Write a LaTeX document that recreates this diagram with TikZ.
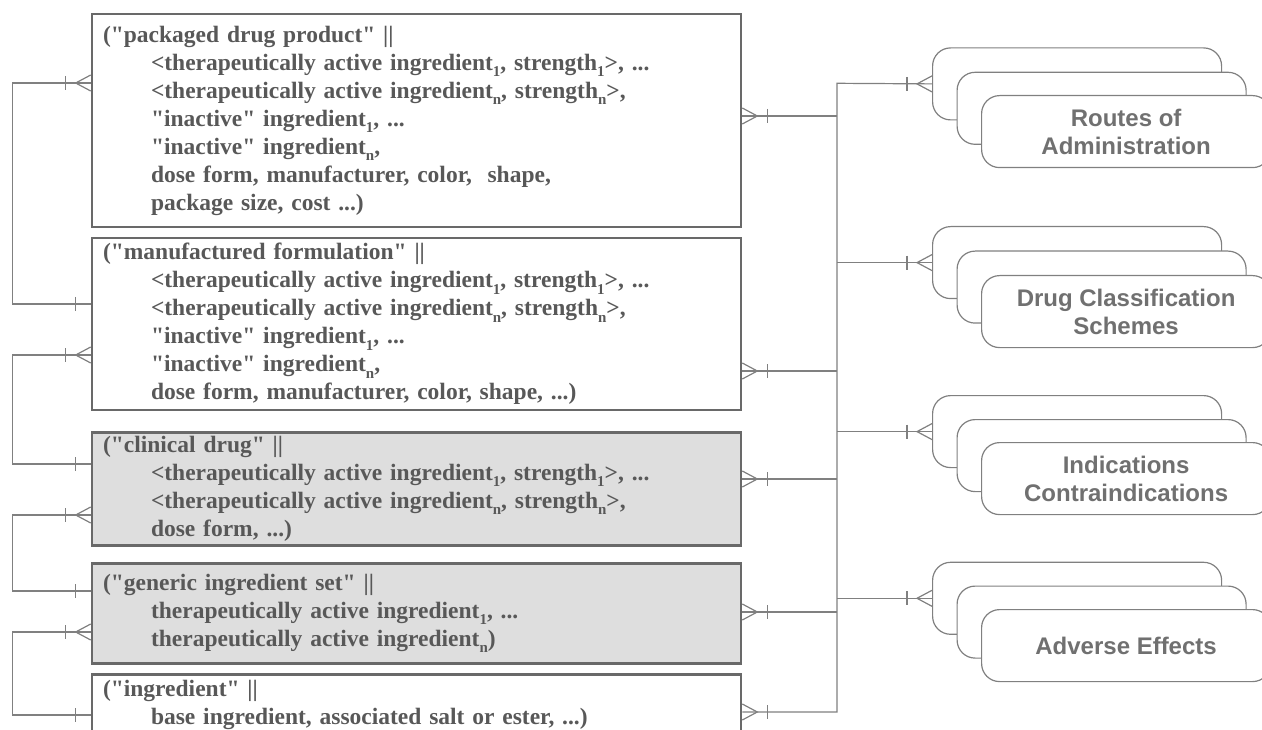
\documentclass[tikz,border=0pt]{standalone}
\usepackage{fontspec}
\newfontfamily\formfont{Liberation Serif}
\newfontfamily\labelfont{Liberation Sans}
\usetikzlibrary{positioning}
\definecolor{linegray}{RGB}{128,128,128}
\definecolor{boxgray}{RGB}{105,105,105}
\definecolor{textgray}{RGB}{88,88,88}
\definecolor{shadegray}{RGB}{222,222,222}
\definecolor{labelgray}{RGB}{112,112,112}
\newcommand{\indline}{\hspace*{48pt}}
\newcommand{\lowsub}[1]{\raisebox{-6.5pt}{\fontsize{15}{15}\selectfont #1}}

\begin{document}
\begin{tikzpicture}[x=1pt,y=-1pt,
  conn/.style={draw=linegray,line width=1.2pt},
  formbox/.style={draw=boxgray,line width=2.6pt,anchor=north west,text width=627pt,inner xsep=11pt,inner ysep=1pt,align=left,font=\formfont\bfseries\fontsize{23.5}{28}\selectfont,text=textgray},
  shaded/.style={fill=shadegray},
  stackbox/.style={draw=linegray,line width=1.2pt,fill=white,rounded corners=18pt,anchor=north west,minimum width=289pt,minimum height=72pt,align=center,font=\labelfont\bfseries\fontsize{24}{28}\selectfont,text=labelgray},
  crowfoot/.pic={\draw[conn] (0,-8) -- (-15,0) -- (0,8); \draw[conn] (-25,-7) -- (-25,7);},
  onebar/.pic={\draw[conn] (-15,-7) -- (-15,7);}
]
\useasboundingbox (0,0) rectangle (1262,730);
\clip (0,0) rectangle (1262,730);

\node[formbox,minimum height=213pt] (pkg) at (90.7,12.7) {("packaged drug product" ||\\
\indline<therapeutically active ingredient\lowsub{1}, strength\lowsub{1}>, ...\\
\indline<therapeutically active ingredient\lowsub{n}, strength\lowsub{n}>,\\
\indline"inactive" ingredient\lowsub{1}, ...\\
\indline"inactive" ingredient\lowsub{n},\\
\indline dose form, manufacturer, color,\ \ shape,\\
\indline package size, cost ...)};
\node[formbox,minimum height=172pt] (mfg) at (90.7,236.7) {("manufactured formulation" ||\\
\indline<therapeutically active ingredient\lowsub{1}, strength\lowsub{1}>, ...\\
\indline<therapeutically active ingredient\lowsub{n}, strength\lowsub{n}>,\\
\indline"inactive" ingredient\lowsub{1}, ...\\
\indline"inactive" ingredient\lowsub{n},\\
\indline dose form, manufacturer, color, shape, ...)};
\node[formbox,shaded,minimum height=113pt] (clin) at (90.7,431) {("clinical drug" ||\\
\indline<therapeutically active ingredient\lowsub{1}, strength\lowsub{1}>, ...\\
\indline<therapeutically active ingredient\lowsub{n}, strength\lowsub{n}>,\\
\indline dose form, ...)};
\node[formbox,shaded,minimum height=100pt] (gen) at (90.7,562) {("generic ingredient set" ||\\
\indline therapeutically active ingredient\lowsub{1}, ...\\
\indline therapeutically active ingredient\lowsub{n})};
\node[formbox,minimum height=62pt] (ingr) at (90.7,673) {("ingredient" ||\\
\indline base ingredient, associated salt or ester, ...)};

\node[stackbox] (routes3) at (932,47.3) {};
\node[stackbox] (routes2) at (956.5,71.7) {};
\node[stackbox] (routes) at (981,95) {Routes of\\Administration};
\node[stackbox] (class3) at (932,226) {};
\node[stackbox] (class2) at (956.5,250.5) {};
\node[stackbox] (class) at (981,275) {Drug Classification\\Schemes};
\node[stackbox] (indic3) at (932,395) {};
\node[stackbox] (indic2) at (956.5,419) {};
\node[stackbox] (indic) at (981,442) {Indications\\Contraindications};
\node[stackbox] (adverse3) at (932,561.7) {};
\node[stackbox] (adverse2) at (956.5,585.5) {};
\node[stackbox] (adverse) at (981,609) {Adverse Effects};

\coordinate (bustop) at (837,83.3);
\coordinate (busbot) at (837,712);
\draw[conn] (routes3.west) -- (bustop) -- (busbot) -- (ingr.east |- busbot);
\draw[conn] (class3.west) -- (bustop |- class3.west);
\draw[conn] (indic3.west) -- (bustop |- indic3.west);
\draw[conn] (adverse3.west) -- (bustop |- adverse3.west);
\draw[conn] (pkg.east |- 0,116) -- (bustop |- 0,116);
\draw[conn] (mfg.east |- 0,371) -- (bustop |- 0,371);
\draw[conn] (clin.east |- 0,479) -- (bustop |- 0,479);
\draw[conn] (gen.east |- 0,612) -- (bustop |- 0,612);
\foreach \grp in {routes3,class3,indic3,adverse3}
  \pic at (\grp.west) {crowfoot};
\pic[xscale=-1] at (pkg.east |- 0,116) {crowfoot};
\pic[xscale=-1] at (mfg.east |- 0,371) {crowfoot};
\pic[xscale=-1] at (clin.east |- 0,479) {crowfoot};
\pic[xscale=-1] at (gen.east |- 0,612) {crowfoot};
\pic[xscale=-1] at (ingr.east |- busbot) {crowfoot};

\draw[conn] (pkg.west |- 0,83) -- (12.7,83) -- (12.7,304) -- (mfg.west |- 0,304);
\draw[conn] (mfg.west |- 0,355) -- (12.7,355) -- (12.7,464) -- (clin.west |- 0,464);
\draw[conn] (clin.west |- 0,515) -- (12.7,515) -- (12.7,591) -- (gen.west |- 0,591);
\draw[conn] (gen.west |- 0,632) -- (12.7,632) -- (12.7,715) -- (ingr.west |- 0,715);
\pic at (pkg.west |- 0,83) {crowfoot};
\pic at (mfg.west |- 0,355) {crowfoot};
\pic at (clin.west |- 0,515) {crowfoot};
\pic at (gen.west |- 0,632) {crowfoot};
\pic at (mfg.west |- 0,304) {onebar};
\pic at (clin.west |- 0,464) {onebar};
\pic at (gen.west |- 0,591) {onebar};
\pic at (ingr.west |- 0,715) {onebar};
\end{tikzpicture}
\end{document}
